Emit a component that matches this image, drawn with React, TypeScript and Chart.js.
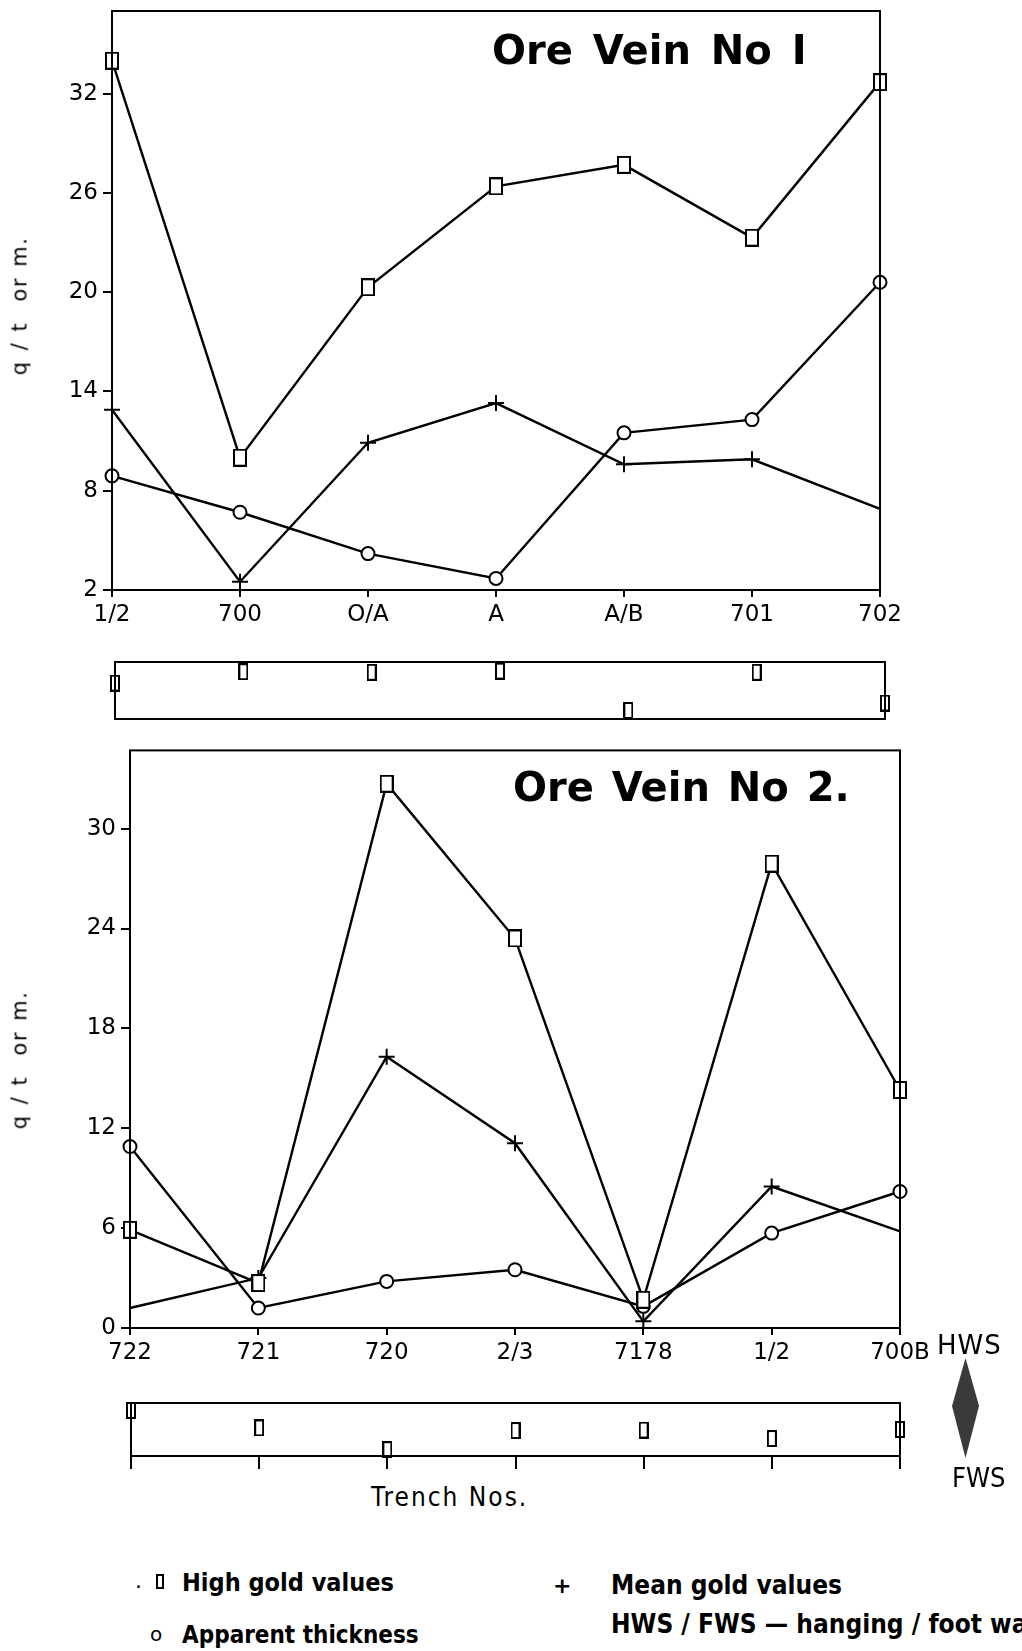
import React, { useEffect, useRef } from 'react';
import { Chart, registerables } from 'chart.js';

Chart.register(...registerables);

// ---------- data ----------
const vein1Trenches = ['1/2', '700', 'O/A', 'A', 'A/B', '701', '702'];
const vein1High = [34.0, 10.0, 20.3, 26.4, 27.7, 23.3, 32.7];
const vein1Mean = [12.9, 2.5, 10.9, 13.3, 9.6, 9.9, 6.9];
const vein1Thick = [8.9, 6.7, 4.2, 2.7, 11.5, 12.3, 20.6];
const vein1Ticks = [2, 8, 14, 20, 26, 32];
const vein1Wall = [0.63, 0.83, 0.82, 0.84, 0.15, 0.82, 0.28];
const vein1MeanNoMarker = [6];

const vein2Trenches = ['722', '721', '720', '2/3', '7178', '1/2', '700B'];
const vein2High = [5.9, 2.7, 32.7, 23.4, 1.7, 27.9, 14.3];
const vein2Mean = [1.2, 3.0, 16.3, 11.1, 0.4, 8.5, 5.8];
const vein2Thick = [10.9, 1.2, 2.8, 3.5, 1.3, 5.7, 8.2];
const vein2Ticks = [0, 6, 12, 18, 24, 30];
const vein2Wall = [0.86, 0.53, 0.12, 0.48, 0.49, 0.33, 0.5];
const vein2MeanNoMarker = [0, 6];

const W = 1022;
const FONT = '"DejaVu Sans", "Liberation Sans", sans-serif';
const NARROW = '"DejaVu Sans Condensed", "Liberation Sans Narrow", "DejaVu Sans", sans-serif';

function rectMarker(w: number, h: number) {
  const c = document.createElement('canvas');
  c.width = w + 2;
  c.height = h + 2;
  const ctx = c.getContext('2d')!;
  ctx.fillStyle = '#fff';
  ctx.fillRect(1, 1, w, h);
  ctx.strokeStyle = '#000';
  ctx.lineWidth = 2;
  ctx.strokeRect(1, 1, w, h);
  return c;
}

const framePlugin = {
  id: 'frame',
  afterDraw(chart: any) {
    const { ctx, chartArea } = chart;
    ctx.save();
    ctx.strokeStyle = '#000';
    ctx.lineWidth = 2;
    ctx.strokeRect(chartArea.left, chartArea.top, chartArea.right - chartArea.left, chartArea.bottom - chartArea.top);
    ctx.restore();
  },
};

type MainParams = {
  labels: string[];
  high: number[];
  mean: number[];
  thick: number[];
  ticks: number[];
  meanNoMarker: number[];
  min: number;
  max: number;
  canvasH: number;
  left: number;
  right: number;
  top: number;
  bottom: number;
};

function mainConfig(p: MainParams): any {
  const xH = 45;
  const sq = rectMarker(12, 16);
  const line = { borderColor: '#000', borderWidth: 2.4, clip: false as any, tension: 0 };
  return {
    type: 'line',
    data: {
      labels: p.labels,
      datasets: [
        { ...line, label: 'High gold values', data: p.high, pointStyle: sq, pointRadius: 8 },
        {
          ...line,
          label: 'Mean gold values',
          data: p.mean,
          pointStyle: 'cross',
          pointRadius: (c: any) => (p.meanNoMarker.includes(c.dataIndex) ? 0 : 8),
          pointBorderWidth: 2,
          pointBorderColor: '#000',
        },
        {
          ...line,
          label: 'Apparent thickness',
          data: p.thick,
          pointStyle: 'circle',
          pointRadius: 6.5,
          pointBorderWidth: 2,
          pointBorderColor: '#000',
          pointBackgroundColor: '#fff',
        },
      ],
    },
    options: {
      animation: false,
      responsive: false,
      devicePixelRatio: 1,
      layout: {
        padding: { left: 0, right: W - p.right, top: p.top, bottom: p.canvasH - p.bottom - xH },
      },
      plugins: { legend: { display: false }, tooltip: { enabled: false } },
      scales: {
        x: {
          type: 'category',
          offset: false,
          grid: { display: true, drawOnChartArea: false, drawTicks: true, tickLength: 7, color: '#000', lineWidth: 2 },
          border: { display: false },
          ticks: { color: '#000', font: { family: FONT, size: 23 }, padding: 4, maxRotation: 0, autoSkip: false },
          afterFit: (s: any) => {
            s.height = xH;
            s.paddingLeft = 0;
            s.paddingRight = 0;
          },
        },
        y: {
          type: 'linear',
          min: p.min,
          max: p.max,
          afterBuildTicks: (s: any) => {
            s.ticks = p.ticks.map((v) => ({ value: v }));
          },
          grid: { display: true, drawOnChartArea: false, drawTicks: true, tickLength: 9, color: '#000', lineWidth: 2 },
          border: { display: false },
          ticks: { color: '#000', font: { family: FONT, size: 23 }, padding: 5 },
          afterFit: (s: any) => {
            s.width = p.left;
            s.paddingTop = 0;
            s.paddingBottom = 0;
          },
        },
      },
    },
    plugins: [framePlugin],
  };
}

type StripParams = {
  labels: string[];
  wall: number[];
  canvasH: number;
  left: number;
  right: number;
  top: number;
  bottom: number;
  ticks: boolean;
};

function stripConfig(p: StripParams): any {
  const tl = 13;
  const mk = rectMarker(8, 15);
  return {
    type: 'line',
    data: {
      labels: p.labels,
      datasets: [
        {
          label: 'Wall side position',
          data: p.wall,
          showLine: false,
          pointStyle: mk,
          pointRadius: 8,
          clip: false,
        },
      ],
    },
    options: {
      animation: false,
      responsive: false,
      devicePixelRatio: 1,
      layout: {
        padding: {
          left: p.left,
          right: W - p.right,
          top: p.top,
          bottom: p.canvasH - p.bottom - (p.ticks ? tl : 0),
        },
      },
      plugins: { legend: { display: false }, tooltip: { enabled: false } },
      scales: {
        x: {
          type: 'category',
          offset: false,
          display: p.ticks,
          grid: { display: true, drawOnChartArea: false, drawTicks: true, tickLength: tl, color: '#000', lineWidth: 2 },
          border: { display: false },
          ticks: { display: false },
          afterFit: (s: any) => {
            s.height = p.ticks ? tl : 0;
            s.paddingLeft = 0;
            s.paddingRight = 0;
          },
        },
        y: {
          type: 'linear',
          min: 0,
          max: 1,
          display: false,
          afterFit: (s: any) => {
            s.width = 0;
          },
        },
      },
    },
    plugins: [framePlugin],
  };
}

function ChartCanvas({ top, height, config }: { top: number; height: number; config: () => any }) {
  const ref = useRef<HTMLCanvasElement | null>(null);
  useEffect(() => {
    if (!ref.current) return;
    const chart = new Chart(ref.current, config());
    return () => chart.destroy();
  }, []);
  return (
    <canvas
      ref={ref}
      width={W}
      height={height}
      style={{ position: 'absolute', left: 0, top, width: W, height, display: 'block' }}
    />
  );
}

function T({
  x,
  y,
  size,
  children,
  weight = 'normal',
  family = FONT,
  extra = {},
}: {
  x: number;
  y: number;
  size: number;
  children: React.ReactNode;
  weight?: any;
  family?: string;
  extra?: React.CSSProperties;
}) {
  return (
    <div
      style={{
        position: 'absolute',
        left: x,
        top: y,
        transform: 'translateY(-50%)',
        fontFamily: family,
        fontSize: size,
        fontWeight: weight,
        lineHeight: 1,
        whiteSpace: 'nowrap',
        color: '#000',
        ...extra,
      }}
    >
      {children}
    </div>
  );
}

function YLabel({ cx, cy }: { cx: number; cy: number }) {
  return (
    <div
      style={{
        position: 'absolute',
        left: cx,
        top: cy,
        transform: 'translate(-50%, -50%) rotate(-90deg)',
        fontFamily: FONT,
        fontSize: 21,
        whiteSpace: 'nowrap',
        lineHeight: 1,
        letterSpacing: 1.5,
        wordSpacing: 2,
        color: '#000',
      }}
    >
      q / t&nbsp;&nbsp;or m.
    </div>
  );
}

export default function App() {
  return (
    <div
      style={{
        position: 'absolute',
        left: 0,
        top: 0,
        width: W,
        height: 1651,
        overflow: 'hidden',
        background: '#fff',
      }}
    >
      <ChartCanvas
        top={0}
        height={650}
        config={() =>
          mainConfig({
            labels: vein1Trenches,
            high: vein1High,
            mean: vein1Mean,
            thick: vein1Thick,
            ticks: vein1Ticks,
            meanNoMarker: vein1MeanNoMarker,
            min: 2,
            max: 37,
            canvasH: 650,
            left: 112,
            right: 880,
            top: 11,
            bottom: 590,
          })
        }
      />
      <ChartCanvas
        top={650}
        height={80}
        config={() =>
          stripConfig({
            labels: vein1Trenches,
            wall: vein1Wall,
            canvasH: 80,
            left: 115,
            right: 885,
            top: 12,
            bottom: 69,
            ticks: false,
          })
        }
      />
      <ChartCanvas
        top={740}
        height={640}
        config={() =>
          mainConfig({
            labels: vein2Trenches,
            high: vein2High,
            mean: vein2Mean,
            thick: vein2Thick,
            ticks: vein2Ticks,
            meanNoMarker: vein2MeanNoMarker,
            min: 0,
            max: 34.7,
            canvasH: 640,
            left: 130,
            right: 900,
            top: 9,
            bottom: 588,
          })
        }
      />
      <ChartCanvas
        top={1390}
        height={82}
        config={() =>
          stripConfig({
            labels: vein2Trenches,
            wall: vein2Wall,
            canvasH: 82,
            left: 131,
            right: 900,
            top: 13,
            bottom: 66,
            ticks: true,
          })
        }
      />

      <T x={492} y={50} size={40} weight="bold" extra={{ wordSpacing: 6 }}>
        Ore Vein No I
      </T>
      <T x={513} y={787} size={40} weight="bold" extra={{ wordSpacing: 4 }}>
        Ore Vein No 2.
      </T>
      <YLabel cx={20} cy={306} />
      <YLabel cx={20} cy={1060} />

      <T x={937} y={1345} size={26} extra={{ letterSpacing: 1 }}>
        HWS
      </T>
      <div
        style={{
          position: 'absolute',
          left: 952,
          top: 1358,
          width: 27,
          height: 100,
          background: '#3a3a3a',
          clipPath: 'polygon(50% 0, 100% 48%, 50% 100%, 0 48%)',
        }}
      />
      <T x={952} y={1477} size={27} family={NARROW}>
        FWS
      </T>

      <T x={371} y={1497} size={26} family={NARROW} extra={{ letterSpacing: 2 }}>
        Trench Nos.
      </T>

      <T x={135} y={1587} size={22}>
        ·
      </T>
      <div
        style={{
          position: 'absolute',
          left: 156,
          top: 1574,
          width: 8,
          height: 15,
          border: '2px solid #000',
          boxSizing: 'border-box',
        }}
      />
      <T x={182} y={1582} size={25} weight="bold" family={NARROW}>
        High gold values
      </T>
      <T x={150} y={1634} size={20}>
        o
      </T>
      <T x={182} y={1635} size={24} weight="bold" family={NARROW}>
        Apparent thickness
      </T>
      <T x={553} y={1586} size={22} weight="bold">
        +
      </T>
      <T x={611} y={1585} size={26} weight="bold" family={NARROW}>
        Mean gold values
      </T>
      <T x={611} y={1624} size={26} weight="bold" family={NARROW}>
        HWS / FWS — hanging / foot wall side
      </T>
    </div>
  );
}
